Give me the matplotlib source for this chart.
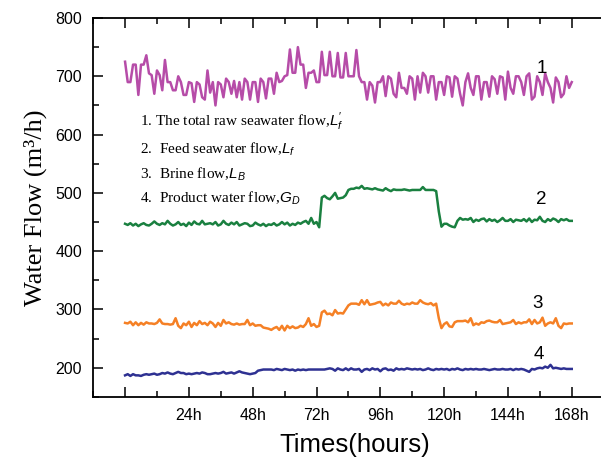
import matplotlib
matplotlib.use("Agg")
import matplotlib.pyplot as plt
import numpy as np
from matplotlib.ticker import MultipleLocator, FixedLocator

plt.rcParams["mathtext.fontset"] = "custom"
plt.rcParams["mathtext.it"] = "Liberation Sans:italic"
plt.rcParams["mathtext.rm"] = "Liberation Sans"

hours = np.arange(0, 169)

# 1. total raw seawater flow (hourly)
raw_flow = [
    725, 690, 690, 720, 720, 668, 720, 720, 736, 705, 702, 670,
    710, 702, 676, 728, 690, 690, 676, 676, 700, 690, 668, 668,
    690, 688, 656, 690, 686, 664, 660, 710, 672, 690, 650, 690,
    686, 664, 696, 690, 670, 692, 664, 690, 660, 696, 690, 660,
    690, 690, 656, 696, 690, 662, 696, 696, 670, 706, 690, 692,
    700, 702, 746, 706, 706, 750, 720, 720, 680, 706, 706, 710,
    690, 690, 742, 702, 702, 742, 700, 700, 740, 698, 698, 740,
    700, 700, 700, 745, 700, 690, 690, 660, 690, 684, 655, 690,
    690, 700, 666, 700, 696, 670, 664, 706, 680, 680, 670, 700,
    696, 660, 700, 672, 706, 700, 672, 700, 700, 660, 690, 690,
    668, 700, 698, 665, 700, 696, 670, 650, 690, 705, 680, 668,
    700, 700, 660, 690, 690, 665, 700, 695, 670, 700, 698, 660,
    708, 680, 670, 700, 700, 690, 668, 700, 705, 660, 665, 700,
    690, 668, 705, 690, 680, 655, 698, 690, 664, 670, 700, 680,
    690,
]

# 2. feed seawater flow
feed_flow = [
    447, 445, 448, 444, 447, 443, 446, 448, 445, 444, 447, 451,
    447, 445, 448, 446, 452, 447, 444, 446, 450, 445, 447, 443,
    449, 445, 451, 447, 446, 452, 446, 447, 448, 446, 450, 444,
    446, 452, 447, 445, 449, 446, 450, 444, 446, 448, 447, 443,
    444, 449, 446, 444, 447, 443, 446, 445, 448, 444, 446, 450,
    446, 449, 444, 447, 445, 449, 447, 450, 452, 447, 457, 447,
    450, 441, 492, 495, 491, 489, 494, 500, 490, 491, 492, 496,
    505, 507, 507, 509, 508, 512, 507, 508, 507, 506, 508, 506,
    505, 504, 508, 505, 503, 506, 505, 505, 505, 506, 505, 504,
    505, 505, 505, 505, 510, 505, 505, 505, 505, 503, 468, 442,
    447, 447, 444, 442, 441, 452, 457, 454, 455, 454, 457, 450,
    454, 452, 455, 456, 451, 455, 452, 454, 450, 453, 457, 452,
    452, 455, 450, 454, 453, 452, 455, 451, 456, 450, 454, 453,
    459, 452, 450, 455, 452, 456, 454, 450, 455, 453, 455, 452,
    452,
]

# 3. brine flow
brine_flow = [
    277, 276, 279, 273, 278, 273, 277, 274, 278, 276, 276, 275,
    277, 283, 276, 275, 275, 274, 275, 285, 272, 268, 276, 273,
    279, 270, 277, 273, 280, 275, 277, 273, 279, 276, 270, 277,
    272, 282, 276, 278, 275, 274, 276, 274, 275, 275, 282, 273,
    276, 272, 273, 273, 269, 268, 267, 265, 268, 270, 265, 272,
    264, 272, 268, 271, 268, 269, 272, 270, 275, 285, 272, 275,
    270, 272, 295, 298, 292, 293, 290, 299, 293, 294, 293, 300,
    307, 310, 310, 310, 308, 316, 309, 316, 308, 309, 310, 312,
    313, 307, 310, 307, 312, 310, 310, 315, 310, 308, 310, 309,
    312, 310, 310, 316, 312, 310, 309, 311, 307, 310, 285, 268,
    275, 278, 271, 270, 278, 280, 280, 280, 281, 278, 285, 273,
    276, 274, 278, 277, 280, 281, 279, 278, 278, 282, 275, 276,
    277, 278, 282, 275, 278, 276, 278, 278, 283, 275, 282, 276,
    278, 286, 272, 276, 278, 276, 285, 272, 268, 276, 275, 276,
    276,
]

# 4. product water flow
product_flow = [
    187, 189, 186, 189, 187, 187, 186, 188, 189, 188, 189, 190,
    188, 189, 191, 190, 192, 190, 189, 191, 193, 191, 191, 189,
    190, 189, 190, 191, 190, 192, 191, 189, 189, 190, 191, 190,
    191, 193, 190, 191, 192, 190, 192, 194, 192, 191, 190, 189,
    190, 191, 195, 196, 197, 197, 197, 197, 196, 198, 197, 196,
    198, 197, 196, 197, 195, 197, 196, 197, 196, 197, 197, 197,
    197, 197, 197, 197, 198, 199, 198, 195, 199, 197, 196, 199,
    196, 199, 197, 197, 198, 193, 197, 198, 196, 199, 197, 198,
    194, 198, 199, 196, 197, 195, 199, 197, 198, 197, 199, 198,
    197, 198, 197, 198, 196, 197, 199, 197, 196, 198, 197, 198,
    197, 198, 196, 198, 197, 199, 197, 196, 198, 197, 198, 197,
    198, 197, 197, 198, 197, 196, 197, 198, 197, 197, 198, 197,
    197, 198, 196, 198, 197, 198, 197, 195, 193, 198, 197, 199,
    200, 199, 202, 200, 205, 199, 200, 199, 198, 199, 198, 198,
    198,
]

x_ticks = [0, 24, 48, 72, 96, 120, 144, 168]
x_ticklabels = ["", "24h", "48h", "72h", "96h", "120h", "144h", "168h"]

legend_lines = [
    "1. The total raw seawater flow,$L^{\\prime}_f$",
    "2.  Feed seawater flow,$L_f$",
    "3.  Brine flow,$L_B$",
    "4.  Product water flow,$G_D$",
]

fig = plt.figure(figsize=(6.01, 4.61), dpi=100)
ax = fig.add_axes([0.155, 0.139, 0.845, 0.822])

ax.plot(hours, raw_flow, color="#B64CA8", lw=1.8)
ax.plot(hours, feed_flow, color="#1A8040", lw=1.8)
ax.plot(hours, brine_flow, color="#F58025", lw=1.8)
ax.plot(hours, product_flow, color="#2E3192", lw=1.8)

ax.set_xlim(-12, 179)
ax.set_ylim(150, 800)
ax.xaxis.set_major_locator(FixedLocator(x_ticks))
ax.set_xticklabels(x_ticklabels)
ax.xaxis.set_minor_locator(MultipleLocator(12))
ax.yaxis.set_major_locator(MultipleLocator(100))
ax.yaxis.set_minor_locator(MultipleLocator(50))
ax.set_yticks(range(200, 801, 100))

ax.spines["right"].set_visible(False)
for s in ["left", "bottom", "top"]:
    ax.spines[s].set_linewidth(1.3)

ax.tick_params(which="both", direction="in", top=True, right=False,
               width=1.1, labelsize=11.5, labelfontfamily="Liberation Sans")
ax.tick_params(which="major", length=7, pad=8)
ax.tick_params(which="minor", length=4)
ax.tick_params(axis="x", which="both", top=True, labeltop=False)

ax.set_xlabel("Times(hours)", fontsize=18.5, family="Liberation Sans")
ax.xaxis.set_label_coords(0.516, -0.095)
ax.set_ylabel("Water Flow (m³/h)", fontsize=19, family="Liberation Serif", labelpad=6)

legend_y = [622, 575, 532, 491]
for txt, yv in zip(legend_lines, legend_y):
    ax.text(5.6, yv, txt, fontsize=11, family="Liberation Serif", va="center")

for lab, xv, yv in [("1", 156.7, 714), ("2", 156.7, 488),
                     ("3", 155, 311), ("4", 155.6, 222)]:
    ax.text(xv, yv, lab, fontsize=13.5, family="Liberation Sans",
            ha="center", va="center")

fig.savefig("out.png", dpi=100)
